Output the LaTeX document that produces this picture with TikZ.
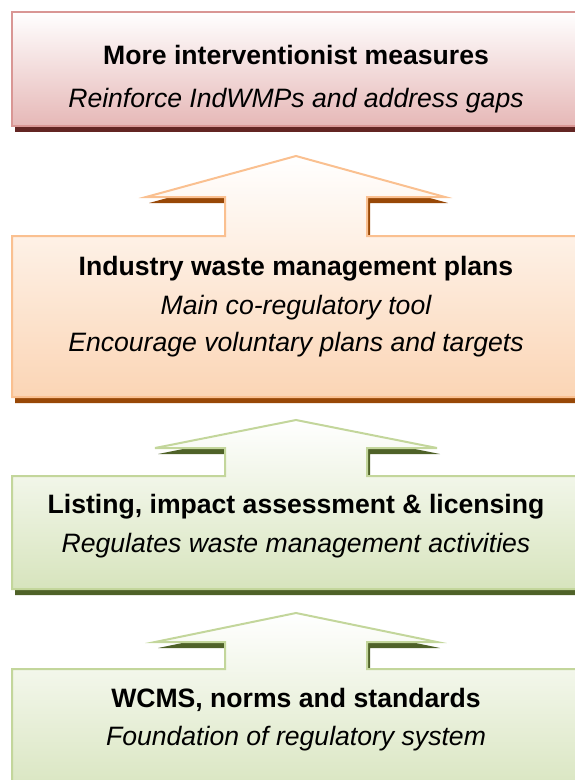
\documentclass[tikz,border=0pt]{standalone}
\usepackage{fontspec}
\setmainfont{Liberation Sans}
\usetikzlibrary{positioning}
\definecolor{redfill}{HTML}{E6B8B7}
\definecolor{redline}{HTML}{D99694}
\definecolor{redshade}{HTML}{632523}
\definecolor{orangefill}{HTML}{FBD5B5}
\definecolor{orangeline}{HTML}{FAC090}
\definecolor{orangeshade}{HTML}{984807}
\definecolor{greenfill}{HTML}{D7E4BD}
\definecolor{greenline}{HTML}{C3D69B}
\definecolor{greenshade}{HTML}{4F6228}

\begin{document}
\begin{tikzpicture}[x=1pt,y=-1pt]
    % Define styles
    \tikzstyle{redtier} = [line width=2pt, draw=redline, top color=white, bottom color=redfill, preaction={fill=redshade, transform canvas={xshift=3pt,yshift=-6pt}}]
    \tikzstyle{orangetier} = [line width=2pt, draw=orangeline, top color=white, bottom color=orangefill, preaction={fill=orangeshade, transform canvas={xshift=3pt,yshift=-6pt}}]
    \tikzstyle{greentier} = [line width=2pt, draw=greenline, top color=white, bottom color=greenfill, preaction={fill=greenshade, transform canvas={xshift=3pt,yshift=-6pt}}]
    \tikzstyle{heading} = [anchor=base, inner sep=0pt, font=\bfseries\fontsize{26.6}{32}\selectfont]
    \tikzstyle{note} = [anchor=base, inner sep=0pt, font=\itshape\fontsize{26.6}{32}\selectfont]

    \useasboundingbox (0,0) rectangle (575,780);

    % Top tier
    \path[redtier] (12,12) rectangle (580,126);
    \node[heading] (interv) at (296,64.5) {More interventionist measures};
    \node[note] (reinforce) at (296,107.5) {Reinforce IndWMPs and address gaps};

    % Industry plans tier
    \path[orangetier] (12,236) -- (225,236) -- (225,197) -- (146,197) -- (296,156)
        -- (445,197) -- (367,197) -- (367,236) -- (580,236) -- (580,397) -- (12,397) -- cycle;
    \node[heading] (indwmp) at (296,275.5) {Industry waste management plans};
    \node[note] (coreg) at (296,314.5) {Main co-regulatory tool};
    \node[note] (voluntary) at (296,351.5) {Encourage voluntary plans and targets};

    % Licensing tier
    \path[greentier] (12,476) -- (225,476) -- (225,448) -- (155,448) -- (296,420)
        -- (437,448) -- (367,448) -- (367,476) -- (580,476) -- (580,589) -- (12,589) -- cycle;
    \node[heading] (listing) at (296,513.5) {Listing, impact assessment \& licensing};
    \node[note] (regulates) at (296,552.5) {Regulates waste management activities};

    % Foundation tier
    \path[greentier] (12,669) -- (225,669) -- (225,642) -- (155,642) -- (296,613)
        -- (437,642) -- (367,642) -- (367,669) -- (580,669) -- (580,800) -- (12,800) -- cycle;
    \node[heading] (wcms) at (296,707.5) {WCMS, norms and standards};
    \node[note] (foundation) at (296,745.5) {Foundation of regulatory system};

\end{tikzpicture}
\end{document}
